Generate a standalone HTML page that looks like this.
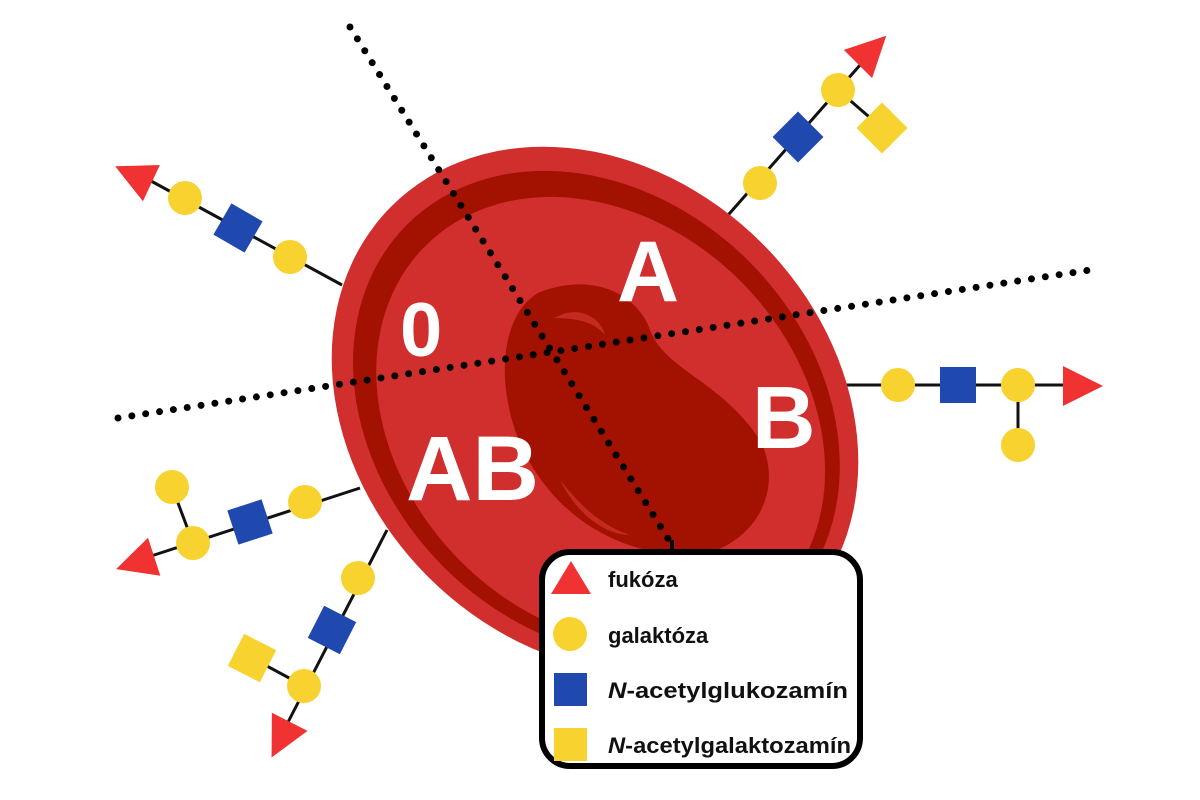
<!DOCTYPE html>
<html><head><meta charset="utf-8"><style>
html,body{margin:0;padding:0;background:#fff;width:1200px;height:800px;overflow:hidden}
</style></head><body>
<svg width="1200" height="800" viewBox="0 0 1200 800" xmlns="http://www.w3.org/2000/svg">
<defs>
<polygon id="tri" points="-17,-20 23,0 -17,20" fill="#f03232"/>
<rect id="sq" x="-18" y="-18" width="36" height="36"/>
</defs>
<g stroke="#111" stroke-width="3" fill="none">
<line x1="722" y1="222" x2="868" y2="56"/>
<line x1="838" y1="90" x2="882" y2="128"/>
<line x1="342" y1="285" x2="140" y2="175"/>
<line x1="840" y1="385" x2="1070" y2="385"/>
<line x1="1018" y1="385" x2="1018" y2="445"/>
<line x1="360" y1="488" x2="145" y2="558"/>
<line x1="193" y1="543" x2="172" y2="487"/>
<line x1="387" y1="530" x2="285" y2="728"/>
<line x1="304" y1="686" x2="252" y2="658"/>
</g>
<g transform="translate(595,410) rotate(45)">
<ellipse cx="0" cy="0" rx="288" ry="236" fill="#d12e2e"/>
<ellipse cx="4" cy="2" rx="268" ry="216" fill="#a31200"/>
<ellipse cx="12" cy="4" rx="248" ry="198" fill="#d12e2e"/>
</g>
<path d="M540,292 C600,270 640,300 650,330 C665,370 720,380 760,440 C790,500 740,560 680,555 C600,550 540,500 515,430 C495,370 505,310 540,292 Z" fill="#a31200"/>
<path d="M555,318 C575,305 600,315 605,335 C595,322 575,318 555,318 Z" fill="#c42a20"/>
<path d="M560,480 C580,520 610,535 630,535 C600,525 580,505 560,480 Z" fill="#c42a20"/>
<g stroke="#000" stroke-width="7" stroke-linecap="round" stroke-dasharray="0 14" fill="none">
<line x1="350" y1="27" x2="672" y2="545"/>
<line x1="118" y1="418" x2="1090" y2="270"/>
</g>
<g font-family="Liberation Sans, sans-serif" font-weight="bold" fill="#fff">
<text x="400" y="356" font-size="76">0</text>
<text x="617" y="301" font-size="86">A</text>
<text x="752" y="448" font-size="88">B</text>
<text x="406" y="500" font-size="92">AB</text>
</g>
<circle cx="760" cy="183" r="17" fill="#f8d22f"/>
<use href="#sq" transform="translate(798,137) rotate(45)" fill="#2049b0"/>
<circle cx="838" cy="90" r="17" fill="#f8d22f"/>
<use href="#sq" transform="translate(882,128) rotate(45)" fill="#f8d22f"/>
<use href="#tri" transform="translate(870,52) rotate(-45)"/>
<circle cx="290" cy="257" r="17" fill="#f8d22f"/>
<use href="#sq" transform="translate(238,228) rotate(30)" fill="#2049b0"/>
<circle cx="185" cy="198" r="17" fill="#f8d22f"/>
<use href="#tri" transform="translate(136,176) rotate(205)"/>
<circle cx="898" cy="385" r="17" fill="#f8d22f"/>
<use href="#sq" transform="translate(958,385)" fill="#2049b0"/>
<circle cx="1018" cy="385" r="17" fill="#f8d22f"/>
<circle cx="1018" cy="445" r="17" fill="#f8d22f"/>
<use href="#tri" transform="translate(1080,386)"/>
<circle cx="305" cy="502" r="17" fill="#f8d22f"/>
<use href="#sq" transform="translate(250,522) rotate(-18)" fill="#2049b0"/>
<circle cx="193" cy="543" r="17" fill="#f8d22f"/>
<circle cx="172" cy="487" r="17" fill="#f8d22f"/>
<use href="#tri" transform="translate(138,562) rotate(162)"/>
<circle cx="358" cy="578" r="17" fill="#f8d22f"/>
<use href="#sq" transform="translate(332,630) rotate(27)" fill="#2049b0"/>
<circle cx="304" cy="686" r="17" fill="#f8d22f"/>
<use href="#sq" transform="translate(252,658) rotate(27)" fill="#f8d22f"/>
<use href="#tri" transform="translate(282,737) rotate(117)"/>
<line x1="672" y1="540" x2="672" y2="553" stroke="#000" stroke-width="4"/>
<rect x="542" y="552" width="318" height="214" rx="28" fill="#fff" stroke="#000" stroke-width="6"/>
<polygon points="571,561 551,594 591,594" fill="#f03232"/>
<circle cx="570" cy="634" r="17" fill="#f8d22f"/>
<rect x="554" y="673" width="33" height="33" fill="#2049b0"/>
<rect x="554" y="728" width="33" height="33" fill="#f8d22f"/>
<g font-family="Liberation Sans, sans-serif" font-weight="bold" font-size="22" fill="#111">
<text x="608" y="587">fukóza</text>
<text x="608" y="643">galaktóza</text>
<text x="608" y="698" textLength="240" lengthAdjust="spacingAndGlyphs"><tspan font-style="italic">N</tspan>-acetylglukozamín</text>
<text x="608" y="753" textLength="243" lengthAdjust="spacingAndGlyphs"><tspan font-style="italic">N</tspan>-acetylgalaktozamín</text>
</g>
</svg>
</body></html>
